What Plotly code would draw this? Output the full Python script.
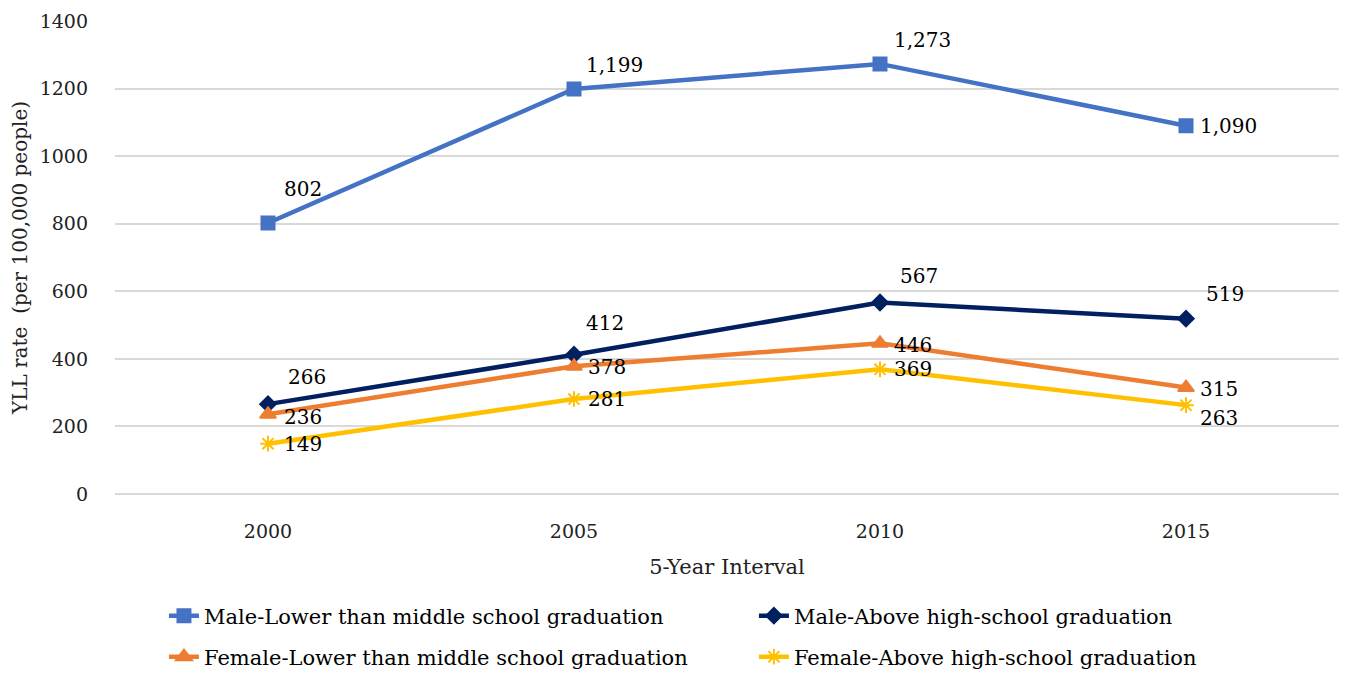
import plotly.graph_objects as go

years = ["2000", "2005", "2010", "2015"]

male_low = [802, 1199, 1273, 1090]
male_high = [266, 412, 567, 519]
female_low = [236, 378, 446, 315]
female_high = [149, 281, 369, 263]

names = [
    "Male-Lower than middle school graduation",
    "Male-Above high-school graduation",
    "Female-Lower than middle school graduation",
    "Female-Above high-school graduation",
]

FONT = "DejaVu Serif, serif"

# label offsets in pixels (dx to left edge, dy up), one per point
label_shift = [
    [(14, 34), (10, 24), (12, 24), (12, 0)],
    [(18, 27), (10, 32), (18, 26), (18, 25)],
    [(14, -3), (12, -1), (12, -2), (12, -1)],
    [(14, 0), (12, 0), (12, 0), (12, -13)],
]


def fmt(v):
    return f"{v:,}"


fig = go.Figure()

series = [
    (male_low, names[0], "#4472C4", "square", 13, "legend"),
    (male_high, names[1], "#002060", "diamond", 12, "legend2"),
    (female_low, names[2], "#ED7D31", "triangle-up", 14, "legend3"),
    (female_high, names[3], "#FFC000", "asterisk-open", 13, "legend4"),
]

for k, (vals, name, col, sym, sz, leg) in enumerate(series):
    fig.add_trace(go.Scatter(
        x=years, y=vals, name=name, mode="lines+markers", legend=leg,
        line=dict(color=col, width=4.5),
        marker=dict(symbol=sym, size=sz, color=col, line=dict(color=col, width=2)),
    ))
    for i, v in enumerate(vals):
        dx, dy = label_shift[k][i]
        # category axis: annotation x is the category index
        fig.add_annotation(
            x=i, y=v, xref="x", yref="y", text=fmt(v), showarrow=False,
            xanchor="left", yanchor="middle", xshift=dx, yshift=dy,
            font=dict(family=FONT, size=20, color="black"),
        )

leg_font = dict(family=FONT, size=21, color="black")

# page body adds an 8px offset, so the figure is a bit smaller than the window
W, H = 1331, 662


def leg(x, ypix):
    return dict(x=x, y=1 - ypix / H, xanchor="left", yanchor="middle", yref="container",
                orientation="h", font=leg_font, bgcolor="rgba(0,0,0,0)")


fig.update_layout(
    width=W, height=H,
    paper_bgcolor="white", plot_bgcolor="white",
    font=dict(family=FONT, size=19, color="#222"),
    margin=dict(l=107, r=0, t=13, b=176),
    showlegend=True,
    legend=leg(0.040, 608),
    legend2=leg(0.522, 608),
    legend3=leg(0.040, 649),
    legend4=leg(0.522, 649),
    xaxis=dict(
        type="category", range=[-0.5, 3.5], showgrid=False, showline=False,
        ticks="", tickfont=dict(size=19, color="#222"), ticklabelstandoff=24,
        title=dict(text="5-Year Interval", font=dict(size=21, color="#222"), standoff=18),
    ),
    yaxis=dict(
        range=[0, 1400], dtick=200, showgrid=True, gridcolor="#d9d9d9", gridwidth=1.5,
        zeroline=True, zerolinecolor="#d9d9d9", zerolinewidth=1.5,
        tickfont=dict(size=19, color="#222"), ticks="", ticklabelstandoff=26,
        title=dict(text="YLL rate  (per 100,000 people)", font=dict(size=20, color="#222"), standoff=12),
    ),
)

fig.write_html("out.html")
